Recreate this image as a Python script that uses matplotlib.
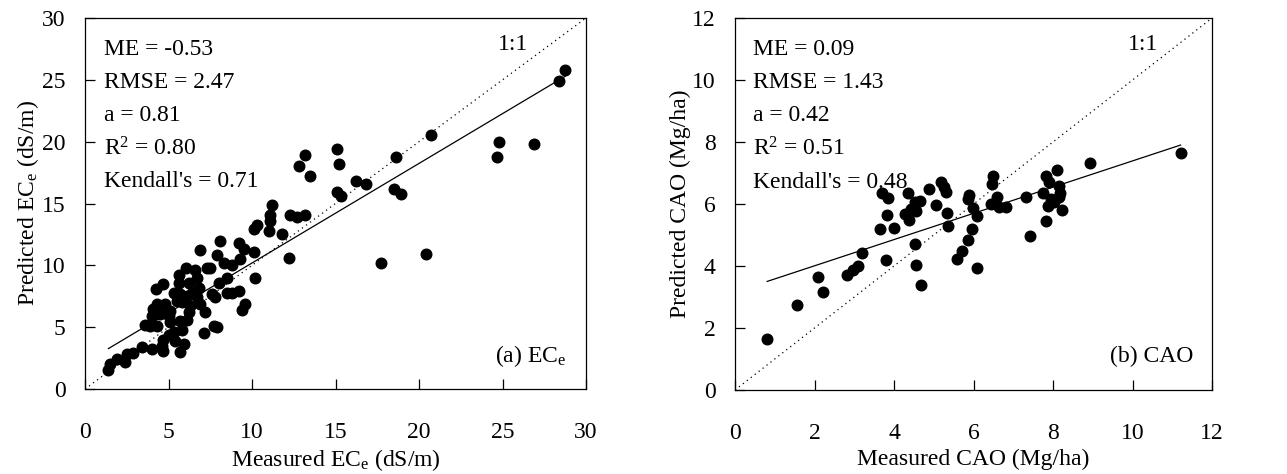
import numpy as np
import matplotlib
matplotlib.use("Agg")
import matplotlib.pyplot as plt

plt.rcParams["font.family"] = ["Liberation Serif", "DejaVu Serif"]
plt.rcParams["mathtext.fontset"] = "custom"
plt.rcParams["mathtext.rm"] = "Liberation Serif"
plt.rcParams["mathtext.it"] = "Liberation Serif:italic"
plt.rcParams["font.size"] = 17

# (a) ECe: measured vs predicted (dS/m)
ece_measured = [28.76, 28.36, 20.7, 24.8, 24.7, 26.9, 18.6, 15.1, 15.2, 13.2, 12.8, 13.5,
                16.2, 16.8, 18.5, 18.9, 15.1, 15.3, 11.2, 11.1, 11.1, 12.3, 12.7, 13.2,
                10.3, 10.1, 11.0, 11.8, 12.2, 17.7, 20.4, 10.1, 10.2, 8.1, 9.2, 9.5,
                9.3, 8.8, 7.9, 8.3, 8.5, 8.0, 8.5, 8.8, 9.2, 9.6, 9.4, 6.9,
                7.3, 7.5, 6.05, 6.6, 5.65, 6.7, 5.6, 6.2, 4.7, 4.25, 6.8, 6.4,
                5.3, 5.7, 6.1, 7.6, 7.8, 5.5, 5.8, 6.7, 6.9, 4.3, 4.8, 5.1,
                4.1, 4.5, 4.0, 5.0, 6.3, 6.2, 7.2, 6.1, 5.7, 5.1, 3.6, 3.9,
                4.3, 5.8, 5.3, 5.0, 7.7, 7.9, 7.1, 4.7, 5.4, 4.6, 5.9, 4.65,
                5.7, 4.0, 3.4, 2.9, 2.5, 2.4, 1.9, 1.5, 1.4]
ece_predicted = [25.8, 24.9, 20.5, 20.0, 18.8, 19.8, 18.8, 19.4, 18.2, 18.9, 18.0, 17.2,
                 16.8, 16.6, 16.2, 15.8, 15.9, 15.6, 14.9, 14.1, 13.6, 14.1, 13.9, 14.1,
                 13.3, 12.9, 12.8, 12.5, 10.6, 10.2, 10.9, 11.1, 9.0, 12.0, 11.8, 11.3,
                 10.5, 10.0, 10.8, 10.2, 9.0, 8.6, 7.8, 7.8, 7.9, 6.9, 6.4, 11.2,
                 9.8, 9.8, 9.8, 9.6, 9.2, 9.0, 8.6, 8.6, 8.5, 8.1, 8.2, 7.8,
                 7.8, 7.7, 7.5, 7.7, 7.4, 7.1, 7.0, 7.4, 6.9, 6.9, 6.9, 6.3,
                 6.5, 6.1, 5.9, 5.9, 6.7, 6.2, 6.2, 5.6, 5.5, 5.4, 5.2, 5.1,
                 5.1, 4.8, 4.6, 4.4, 5.1, 5.0, 4.5, 4.0, 3.9, 3.5, 3.6, 3.1,
                 3.0, 3.2, 3.4, 2.9, 2.8, 2.2, 2.4, 2.0, 1.5]
ece_slope, ece_intercept = 0.805, 2.14
ece_stats = ["ME = -0.53", "RMSE = 2.47", "a = 0.81", "R$^2$ = 0.80", "Kendall's = 0.71"]

# (b) CAO: measured vs predicted (Mg/ha)
cao_measured = [0.81, 1.56, 2.08, 2.21, 2.82, 2.97, 3.10, 3.19, 3.66, 3.71, 3.85, 3.82,
                3.79, 4.0, 4.36, 4.27, 4.38, 4.44, 4.54, 4.66, 4.56, 4.52, 4.56, 4.69,
                4.88, 5.06, 5.18, 5.25, 5.31, 5.34, 5.36, 5.59, 5.72, 5.86, 5.96, 5.88,
                5.86, 5.98, 6.09, 6.09, 6.49, 6.47, 6.44, 6.59, 6.63, 6.83, 7.32, 7.42,
                7.76, 7.82, 7.89, 7.87, 7.95, 7.82, 8.09, 8.03, 8.16, 8.18, 8.14, 8.23,
                8.94, 11.21]
cao_predicted = [1.64, 2.74, 3.63, 3.16, 3.72, 3.88, 4.0, 4.41, 5.19, 6.34, 6.19, 5.65,
                 4.19, 5.21, 6.37, 5.69, 5.47, 5.83, 6.06, 6.10, 5.79, 4.70, 4.03, 3.39,
                 6.50, 5.97, 6.72, 6.56, 6.40, 5.71, 5.30, 4.21, 4.47, 4.84, 5.19, 6.29,
                 6.16, 5.86, 5.62, 3.95, 6.91, 6.64, 6.0, 6.22, 5.89, 5.89, 6.23, 4.96,
                 6.34, 6.91, 6.72, 5.94, 6.16, 5.46, 7.09, 6.05, 6.59, 6.37, 6.21, 5.81,
                 7.32, 7.66]
cao_slope, cao_intercept = 0.423, 3.16
cao_stats = ["ME = 0.09", "RMSE = 1.43", "a = 0.42", "R$^2$ = 0.51", "Kendall's = 0.48"]

fig = plt.figure(figsize=(12.87, 4.74), dpi=100)
ax1 = fig.add_axes([85 / 1287, 1 - 389 / 474, 501 / 1287, 371 / 474])
ax2 = fig.add_axes([735 / 1287, 1 - 390 / 474, 477 / 1287, 372 / 474])

panels = [
    (ax1, ece_measured, ece_predicted, ece_slope, ece_intercept, ece_stats, 30, 5,
     "Measured EC$_\\mathrm{e}$ (dS/m)", "Predicted EC$_\\mathrm{e}$ (dS/m)", "(a) EC$_\\mathrm{e}$"),
    (ax2, cao_measured, cao_predicted, cao_slope, cao_intercept, cao_stats, 12, 2,
     "Measured CAO (Mg/ha)", "Predicted CAO (Mg/ha)", "(b) CAO"),
]

for ax, xm, yp, slope, intercept, stats, lim, step, xlab, ylab, tag in panels:
    xm = np.array(xm)
    # 1:1 reference line and fitted regression line
    ax.plot([0, lim], [0, lim], color="black", linestyle=(0, (1, 3)), linewidth=0.9)
    xs = np.array([xm.min(), xm.max()])
    ax.plot(xs, slope * xs + intercept, color="black", linewidth=0.9)
    ax.scatter(xm, yp, s=58, color="black", zorder=3)

    ax.set_xlim(0, lim)
    ax.set_ylim(0, lim)
    ax.set_xticks(np.arange(0, lim + 1, step))
    ax.set_yticks(np.arange(0, lim + 1, step))
    ax.tick_params(direction="in", length=7, width=0.9)
    ax.tick_params(axis="x", pad=24)
    ax.tick_params(axis="y", pad=14)
    for s in ax.spines.values():
        s.set_linewidth(0.9)
    ax.set_xlabel(xlab, labelpad=3)
    ax.set_ylabel(ylab, labelpad=1)

    for i, t in enumerate(stats):
        ax.text(0.038, 0.915 - i * 0.089, t, transform=ax.transAxes, va="center", ha="left")
    ax.text(0.855, 0.928, "1:1", transform=ax.transAxes, va="center", ha="center")
    ax.text(0.96, 0.09, tag, transform=ax.transAxes, va="center", ha="right")

fig.savefig("out.png", dpi=100)
